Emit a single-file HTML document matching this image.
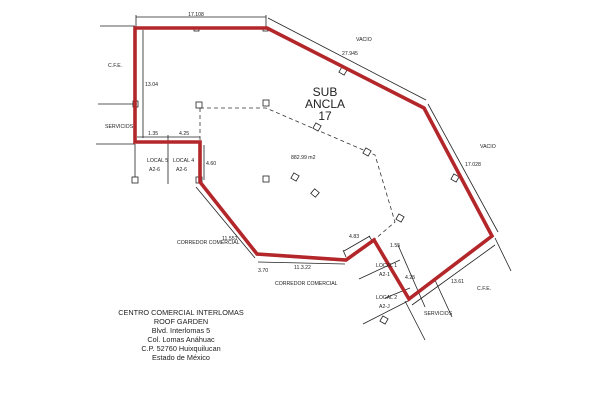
<!DOCTYPE html>
<html><head><meta charset="utf-8"><style>
html,body{margin:0;padding:0;background:#fff}
svg{display:block}
text{font-family:"Liberation Sans",sans-serif;fill:#222}
</style></head><body>
<svg width="600" height="400" viewBox="0 0 600 400" xmlns="http://www.w3.org/2000/svg">
<rect width="600" height="400" fill="#fff"/>
<g stroke="#222" stroke-width="0.8" fill="none">
<line x1="136" y1="17" x2="266" y2="17"/><line x1="136" y1="15" x2="136" y2="27"/><line x1="266" y1="15" x2="266" y2="27"/>
<line x1="100" y1="26" x2="135" y2="26"/>
<line x1="98" y1="104" x2="135" y2="104"/>
<line x1="96" y1="144" x2="135" y2="144"/>
<line x1="143" y1="30" x2="143" y2="138"/>
<line x1="137" y1="137" x2="200" y2="137"/><line x1="168" y1="135" x2="168" y2="184"/>
<line x1="135" y1="144" x2="135" y2="183"/>
<line x1="204" y1="145" x2="204" y2="180"/>
<line x1="268" y1="18" x2="426" y2="100"/>
<line x1="428" y1="104" x2="498" y2="232"/>
<line x1="495" y1="238" x2="511" y2="271"/>
<line x1="434" y1="278" x2="452" y2="317"/>
<line x1="412" y1="305" x2="495" y2="245"/>
<line x1="398" y1="245" x2="425" y2="307"/>
<line x1="405" y1="301" x2="425" y2="340"/>
<line x1="385" y1="298" x2="410" y2="288"/>
<line x1="363" y1="324" x2="410" y2="300"/>
<line x1="359" y1="279" x2="400" y2="260"/>
<line x1="344" y1="251" x2="370" y2="236"/><line x1="343" y1="250" x2="346" y2="257"/><line x1="369" y1="236" x2="373" y2="242"/>
<line x1="196" y1="187" x2="255" y2="258"/>
<line x1="258" y1="262" x2="345" y2="264"/>
</g>
<g stroke="#333" stroke-width="0.8" fill="none" stroke-dasharray="4,3">
<polyline points="200,108 266,108 375,155 395,222 374,240"/>
<line x1="200" y1="108" x2="200" y2="142"/>
</g>
<g stroke="#222" stroke-width="0.8" fill="#fff">
<rect x="196" y="102" width="6" height="6"/><rect x="263" y="100" width="6" height="6"/>
<rect x="132" y="177" width="6" height="6"/><rect x="196" y="177" width="6" height="6"/>
<rect x="263" y="176" width="6" height="6"/><rect x="292" y="174" width="6" height="6" transform="rotate(30 295 177)"/>
<rect x="312" y="190" width="6" height="6" transform="rotate(40 315 193)"/>
<rect x="314" y="124" width="6" height="6" transform="rotate(30 317 127)"/>
<rect x="364" y="149" width="6" height="6" transform="rotate(30 367 152)"/>
<rect x="397" y="215" width="6" height="6" transform="rotate(30 400 218)"/>
<rect x="340" y="68" width="6" height="6" transform="rotate(30 343 71)"/>
<rect x="452" y="175" width="6" height="6" transform="rotate(30 455 178)"/>
<rect x="381" y="317" width="6" height="6" transform="rotate(30 384 320)"/>
<rect x="133" y="101" width="5" height="6"/><rect x="263" y="27" width="5" height="4"/><rect x="194" y="27" width="5" height="4"/>
</g>
<polygon points="135,28 267,28 424,108 492,236 409,299 374,240 346,260 257,254 200,182 200,142 135,142" fill="none" stroke="#b3262a" stroke-width="3.6" stroke-linejoin="miter"/>
<g font-size="5.2">
<text x="196" y="16" text-anchor="middle">17.108</text>
<text x="108" y="67">C.F.E.</text>
<text x="145" y="86">13.04</text>
<text x="105" y="128">SERVICIOS</text>
<text x="148" y="135">1.35</text><text x="179" y="135">4.25</text>
<text x="147" y="162">LOCAL 5</text><text x="149" y="171">A2-6</text>
<text x="173" y="162">LOCAL 4</text><text x="176" y="171">A2-6</text>
<text x="206" y="165">4.60</text>
<text x="342" y="55">27.945</text>
<text x="356" y="41">VACIO</text>
<text x="480" y="148">VACIO</text>
<text x="465" y="166">17.028</text>
<text x="291" y="159">882.99 m2</text>
<text x="222" y="240">11.551</text>
<text x="177" y="244">CORREDOR COMERCIAL</text>
<text x="258" y="272">3.70</text><text x="294" y="269">11.3.22</text>
<text x="275" y="285">CORREDOR COMERCIAL</text>
<text x="349" y="238">4.83</text><text x="390" y="247">1.55</text>
<text x="376" y="267">LOCAL 1</text><text x="379" y="276">A2-1</text>
<text x="405" y="279">4.25</text>
<text x="376" y="299">LOCAL 2</text><text x="379" y="308">A2-J</text>
<text x="451" y="283">13.61</text><text x="477" y="290">C.F.E.</text>
<text x="424" y="315">SERVICIOS</text>
</g>
<g font-size="12" text-anchor="middle" style="fill:#444"><text x="325" y="96">SUB</text><text x="325" y="108">ANCLA</text><text x="325" y="120">17</text></g>
<g font-size="7.3" text-anchor="middle" style="fill:#333">
<text x="181" y="315">CENTRO COMERCIAL INTERLOMAS</text>
<text x="181" y="324">ROOF GARDEN</text>
<text x="181" y="333">Blvd. Interlomas 5</text>
<text x="181" y="342">Col. Lomas Anáhuac</text>
<text x="181" y="351">C.P. 52760 Huixquilucan</text>
<text x="181" y="360">Estado de México</text>
</g>
</svg>
</body></html>
